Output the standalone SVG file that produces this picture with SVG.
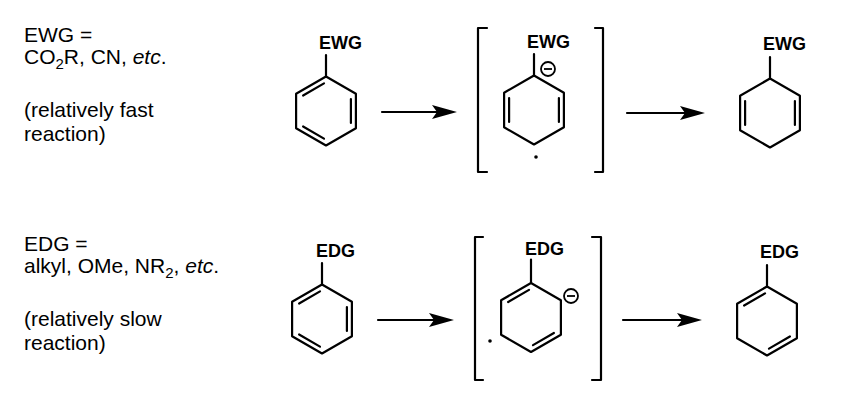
<svg xmlns="http://www.w3.org/2000/svg" width="851" height="415" viewBox="0 0 851 415">
<style>
.b{fill:none;stroke:#000;stroke-width:2.2;stroke-linecap:round;stroke-linejoin:round}
.t{font-family:"Liberation Sans",Arial,sans-serif;font-size:21px;fill:#000}
.l{font-family:"Liberation Sans",Arial,sans-serif;font-size:18px;font-weight:bold;fill:#000}
</style>
<defs>
<path id="hex" class="b" d="M0,-34.5 L29.9,-17.25 L29.9,17.25 L0,34.5 L-29.9,17.25 L-29.9,-17.25Z"/>
<g id="minus"><circle r="7" fill="#fff" stroke="#000" stroke-width="1.8"/><line x1="-4" y1="0" x2="4" y2="0" stroke="#000" stroke-width="1.8"/></g>
<path id="head" d="M0,0 L-25,-7 L-20,0 L-25,7Z" fill="#000"/>
</defs>
<rect width="851" height="415" fill="#fff"/>
<g id="legend">
<text class="t" x="24" y="42">EWG =</text>
<text class="t" x="24" y="64">CO<tspan font-size="15" dy="5">2</tspan><tspan dy="-5">R, CN, </tspan><tspan font-style="italic">etc</tspan>.</text>
<text class="t" x="24" y="117">(relatively fast</text>
<text class="t" x="24" y="141">reaction)</text>
<text class="t" x="24" y="251">EDG =</text>
<text class="t" x="24" y="273">alkyl, OMe, NR<tspan font-size="15" dy="5">2</tspan><tspan dy="-5">, </tspan><tspan font-style="italic">etc</tspan>.</text>
<text class="t" x="24" y="326">(relatively slow</text>
<text class="t" x="24" y="350">reaction)</text>
</g>
<g id="ewg-benzene" transform="translate(326,111)">
<use href="#hex"/>
<path class="b" d="M-2,-27.6 L-22.9,-15.5 M24.9,-12 L24.9,12 M-22.9,15.5 L-2,27.6 M0,-34.5 L0,-56"/>
<text class="l" x="-7" y="-62">EWG</text>
</g>
<g id="ewg-intermediate" transform="translate(534,110)">
<use href="#hex"/>
<path class="b" d="M-24.9,-12 L-24.9,12 M24.9,-12 L24.9,12 M0,-34.5 L0,-56"/>
<text class="l" x="-7" y="-62">EWG</text>
<use href="#minus" x="14" y="-41"/>
<circle cx="2" cy="47" r="1.8" fill="#000"/>
</g>
<g id="ewg-product" transform="translate(770,113)">
<use href="#hex"/>
<path class="b" d="M-24.9,-12 L-24.9,12 M24.9,-12 L24.9,12 M0,-34.5 L0,-56"/>
<text class="l" x="-7" y="-63">EWG</text>
</g>
<g id="edg-benzene" transform="translate(322,319)">
<use href="#hex"/>
<path class="b" d="M-2,-27.6 L-22.9,-15.5 M24.9,-12 L24.9,12 M-22.9,15.5 L-2,27.6 M0,-34.5 L0,-56"/>
<text class="l" x="-6" y="-62">EDG</text>
</g>
<g id="edg-intermediate" transform="translate(531,317.5)">
<use href="#hex"/>
<path class="b" d="M-2,-27.6 L-22.9,-15.5 M22.9,15.5 L2,27.6 M0,-34.5 L0,-58"/>
<text class="l" x="-6" y="-62.5">EDG</text>
<use href="#minus" x="40" y="-21.5"/>
<circle cx="-41" cy="23.5" r="1.8" fill="#000"/>
</g>
<g id="edg-product" transform="translate(767,321)">
<use href="#hex"/>
<path class="b" d="M-2,-27.6 L-22.9,-15.5 M22.9,15.5 L2,27.6 M0,-34.5 L0,-56"/>
<text class="l" x="-7" y="-63">EDG</text>
</g>
<g id="brackets">
<path class="b" d="M487,28 L478,28 L478,172 L487,172 M595,28 L603,28 L603,172 L595,172"/>
<path class="b" d="M483,237 L475,237 L475,380 L483,380 M592,237 L601,237 L601,380 L592,380"/>
</g>
<g id="connectors">
<line class="b" x1="382" y1="112" x2="440" y2="112"/><use href="#head" x="457" y="112"/>
<line class="b" x1="627" y1="113" x2="688" y2="113"/><use href="#head" x="705" y="113"/>
<line class="b" x1="378" y1="320" x2="437" y2="320"/><use href="#head" x="454" y="320"/>
<line class="b" x1="623" y1="320" x2="685" y2="320"/><use href="#head" x="702" y="320"/>
</g>
</svg>
